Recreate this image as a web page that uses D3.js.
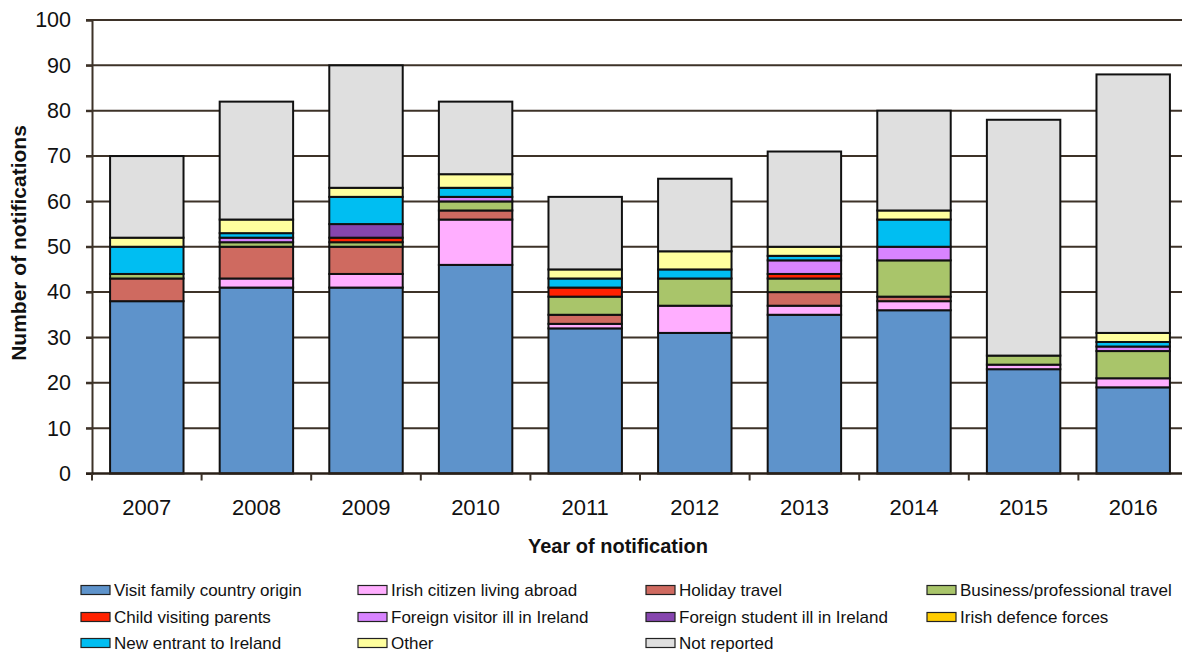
<!DOCTYPE html>
<html lang="en">
<head>
<meta charset="utf-8">
<title>Notifications by year and travel reason</title>
<style>
  html, body { margin: 0; padding: 0; background: #fff; }
  svg { display: block; font-family: "Liberation Sans", Arial, sans-serif; }
</style>
</head>
<body>
<svg width="1182" height="655"></svg>
<script src="https://cdn.jsdelivr.net/npm/d3@7/dist/d3.min.js"></script>
<script>

const years = ["2007","2008","2009","2010","2011","2012","2013","2014","2015","2016"]

const categories = [
  "Visit family country origin", "Irish citizen living abroad", "Holiday travel", "Business/professional travel",
  "Child visiting parents", "Foreign visitor ill in Ireland", "Foreign student ill in Ireland", "Irish defence forces",
  "New entrant to Ireland", "Other", "Not reported"
]

const visitFamily     = [38, 41, 41, 46, 32, 31, 35, 36, 23, 19]
const irishCitizen    = [ 0,  2,  3, 10,  1,  6,  2,  2,  1,  2]
const holiday         = [ 5,  7,  6,  2,  2,  0,  3,  1,  0,  0]
const business        = [ 1,  1,  1,  2,  4,  6,  3,  8,  2,  6]
const childVisiting   = [ 0,  0,  1,  0,  2,  0,  1,  0,  0,  0]
const foreignVisitor  = [ 0,  1,  0,  1,  0,  0,  3,  3,  0,  1]
const foreignStudent  = [ 0,  0,  3,  0,  0,  0,  0,  0,  0,  0]
const defenceForces   = [ 0,  0,  0,  0,  0,  0,  0,  0,  0,  0]
const newEntrant      = [ 6,  1,  6,  2,  2,  2,  1,  6,  0,  1]
const other           = [ 2,  3,  2,  3,  2,  4,  2,  2,  0,  2]
const notReported     = [18, 26, 27, 16, 16, 16, 21, 22, 52, 57]

const yTicks = [0, 10, 20, 30, 40, 50, 60, 70, 80, 90, 100]

const series = [visitFamily, irishCitizen, holiday, business, childVisiting, foreignVisitor,
                foreignStudent, defenceForces, newEntrant, other, notReported]

const colors = ["#5e93cb", "#ffaeff", "#cf6a60", "#a9c56a", "#ff2200", "#d884ff",
                "#8645ae", "#ffcc00", "#00bef2", "#ffff9e", "#dfdfdf"]

// table for d3.stack
const table = years.map((yr, i) => {
  const row = {year: yr}
  categories.forEach((c, k) => row[c] = series[k][i])
  return row
})

const svg = d3.select("svg"),
      plotLeft = 92, plotRight = 1188, plotTop = 20, plotBottom = 473.5,
      gridColor = "#3d3228"

const x = d3.scaleBand().domain(years).range([plotLeft, plotRight]).paddingInner(0.33).paddingOuter(0.165)
const y = d3.scaleLinear().domain([0, 100]).range([plotBottom, plotTop])
const color = d3.scaleOrdinal().domain(categories).range(colors)

// gridlines
svg.append("g")
  .selectAll("line")
  .data(yTicks.filter(d => d > 0))
  .enter().append("line")
    .attr("x1", plotLeft - 6).attr("x2", 1182)
    .attr("y1", d => y(d)).attr("y2", d => y(d))
    .style("stroke", gridColor)
    .style("stroke-width", 2)

// bars
const stacked = d3.stack().keys(categories)(table)

svg.append("g")
  .selectAll("g")
  .data(stacked)
  .enter().append("g")
    .style("fill", d => color(d.key))
  .selectAll("rect")
  .data(d => d.filter(s => s[1] > s[0]))
  .enter().append("rect")
    .attr("x", d => x(d.data.year))
    .attr("width", x.bandwidth())
    .attr("y", d => y(d[1]))
    .attr("height", d => y(d[0]) - y(d[1]))
    .style("stroke", "#111")
    .style("stroke-width", 2)

// y axis
const yAxis = svg.append("g")
  .attr("transform", `translate(${plotLeft},0)`)
  .call(d3.axisLeft(y).tickValues(yTicks).tickSize(6).tickPadding(15))
yAxis.select(".domain").style("stroke", gridColor).style("stroke-width", 2)
yAxis.selectAll(".tick line").style("stroke", gridColor).style("stroke-width", 2)
yAxis.selectAll("text")
  .style("font-size", "21.5px")
  .style("fill", "#111")
  .style("font-family", "'Liberation Sans', Arial, sans-serif")

// x axis
const xAxis = svg.append("g")
  .attr("transform", `translate(0,${plotBottom})`)
  .call(d3.axisBottom(x).tickSize(0).tickPadding(26))
xAxis.select(".domain").remove()
xAxis.selectAll("text")
  .style("font-size", "22px")
  .style("fill", "#111")
  .style("font-family", "'Liberation Sans', Arial, sans-serif")

svg.append("line")
  .attr("x1", plotLeft - 6).attr("x2", 1182)
  .attr("y1", plotBottom).attr("y2", plotBottom)
  .style("stroke", "#2a2018").style("stroke-width", 2.5)

const halfGap = x.step() * x.paddingInner() / 2
svg.append("g")
  .selectAll("line")
  .data(years)
  .enter().append("line")
    .attr("x1", d => x(d) - halfGap).attr("x2", d => x(d) - halfGap)
    .attr("y1", plotBottom).attr("y2", plotBottom + 7)
    .style("stroke", gridColor).style("stroke-width", 2)

// axis titles
svg.append("text")
  .text("Year of notification")
  .attr("x", 618).attr("y", 553)
  .style("text-anchor", "middle")
  .style("font-size", "20px")
  .style("font-weight", 700)
  .style("fill", "#111")

svg.append("text")
  .text("Number of notifications")
  .attr("transform", "translate(26,243) rotate(-90)")
  .style("text-anchor", "middle")
  .style("font-size", "21px")
  .style("font-weight", 700)
  .style("fill", "#111")

// legend
const legendCols = [81, 358, 646, 927],
      legendRows = [590, 617, 643]

const legend = svg.append("g")
  .selectAll("g")
  .data(categories)
  .enter().append("g")
    .attr("transform", (d, i) => `translate(${legendCols[i % 4]},${legendRows[Math.floor(i / 4)]})`)

legend.append("rect")
  .attr("x", 0).attr("y", -4.5)
  .attr("width", 29).attr("height", 9)
  .style("fill", d => color(d))
  .style("stroke", "#222")
  .style("stroke-width", 1.2)

legend.append("text")
  .text(d => d)
  .attr("x", 33).attr("y", 0)
  .style("dominant-baseline", "central")
  .style("font-size", "17px")
  .style("fill", "#111")

</script>
</body>
</html>
